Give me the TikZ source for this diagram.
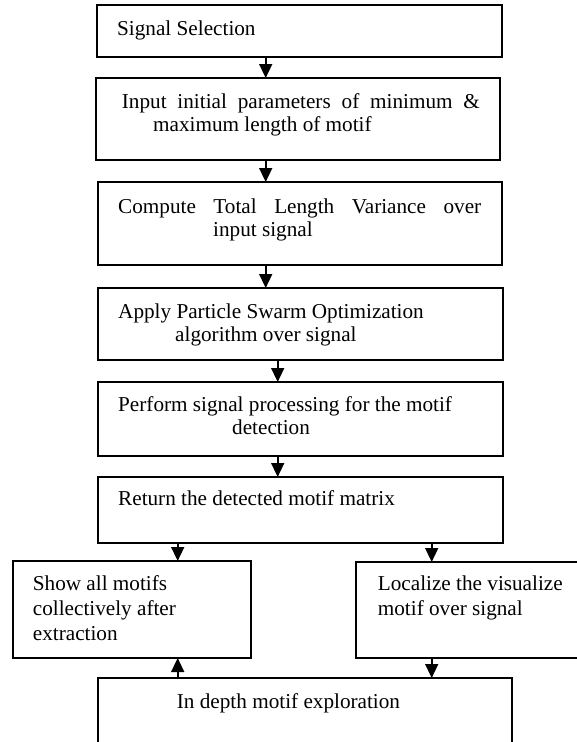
\documentclass[tikz,border=0pt]{standalone}
\usepackage{fontspec}
\setmainfont{Liberation Serif}
\usetikzlibrary{arrows.meta}

\begin{document}
\begin{tikzpicture}[x=1pt,y=-1pt,
		box/.style={draw,line width=1.6pt,anchor=north west,inner sep=0pt,outer sep=0pt},
		txt/.style={anchor=base west,inner sep=0pt,font=\fontsize{21.2}{24}\selectfont},
		arr/.style={line width=1.6pt,-{Triangle[length=14pt,width=13pt]}}]
	\clip (0,0) rectangle (577,742);

	% boxes
	\foreach \nm/\xa/\ya/\xb/\yb in {sel/97/5/502/57,inp/96/78/500/160,tlv/98/182/502/265,pso/98/288/503/360,proc/98/382/503/456,ret/98/477/503/543,show/13/561/251/658,loc/356/562/600/658,expl/98/678/512/770} {
		\node[box,minimum width={(\xb-\xa)*1pt},minimum height={(\yb-\ya)*1pt}] (\nm) at (\xa,\ya) {};
	}

	% texts
	\node[txt] (selA) at (117,35) {Signal Selection};
	\node[txt] (inpA) at (121.7,108) {\makebox[358pt][s]{Input initial parameters of minimum \&}};
	\node[txt] (inpB) at (153,131.7) {maximum length of motif};
	\node[txt] (tlvA) at (118,213) {\makebox[363pt][s]{Compute Total Length Variance over}};
	\node[txt] (tlvB) at (213,236.7) {input signal};
	\node[txt] (psoA) at (118,318) {Apply Particle Swarm Optimization};
	\node[txt] (psoB) at (175,341.7) {algorithm over signal};
	\node[txt] (procA) at (118,411.7) {Perform signal processing for the motif};
	\node[txt] (procB) at (232,434) {detection};
	\node[txt] (retA) at (118,505.7) {Return the detected motif matrix};
	\node[txt] (showA) at (32.7,590) {Show all motifs};
	\node[txt] (showB) at (32.7,615) {collectively after};
	\node[txt] (showC) at (32.7,640) {extraction};
	\node[txt] (locA) at (377.7,590) {Localize the visualize};
	\node[txt] (locB) at (377.7,615) {motif over signal};
	\node[txt] (explA) at (176.7,708) {In depth motif exploration};

	% arrows
	\coordinate (ca) at (265.7,0);
	\coordinate (cb) at (277.7,0);
	\coordinate (cl) at (177.7,0);
	\coordinate (cr) at (431.7,0);
	\foreach \a/\b/\c in {sel/inp/ca,inp/tlv/ca,tlv/pso/ca,pso/proc/cb,proc/ret/cb,ret/show/cl,ret/loc/cr,loc/expl/cr} {
		\draw[arr] (\a.south -| \c) -- (\b.north -| \c);
	}
	\draw[arr] (expl.north -| cl) -- (show.south -| cl);
\end{tikzpicture}
\end{document}
